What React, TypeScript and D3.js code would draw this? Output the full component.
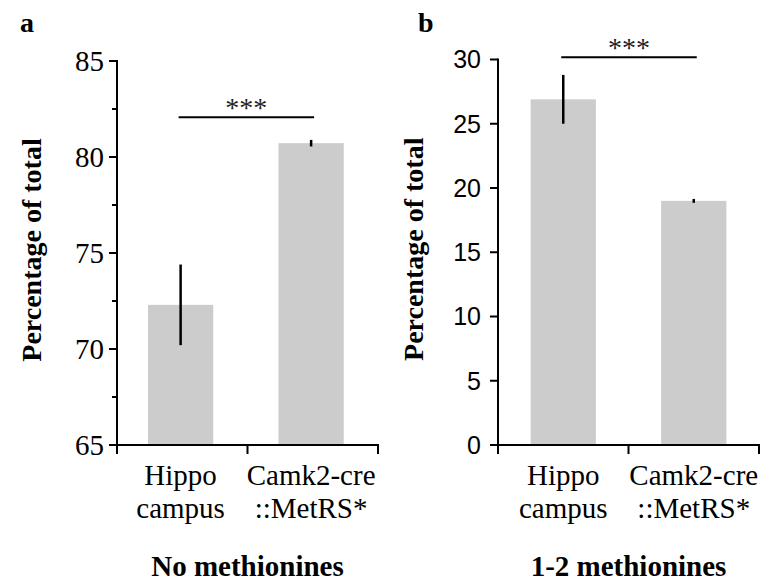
import React from "react";
import * as d3 from "d3";

const categories = ["Hippocampus", "Camk2-cre::MetRS*"];
const categoryLines = [["Hippo", "campus"], ["Camk2-cre", "::MetRS*"]];

const noMetMeans = [72.3, 80.72];
const noMetErrors = [2.1, 0.17];
const noMetTicks = [65, 70, 75, 80, 85];
const noMetMinorTicks = [67.5, 72.5, 77.5, 82.5];
const noMetSig = 82.07;

const oneTwoMeans = [26.9, 19.0];
const oneTwoErrors = [1.9, 0.15];
const oneTwoTicks = [0, 5, 10, 15, 20, 25, 30];
const oneTwoSig = 30.17;

const SERIF = "'Liberation Serif', 'Times New Roman', serif";
const SANS = "'Liberation Sans', Arial, sans-serif";

type PanelProps = {
  letter: string;
  letterX: number;
  title: string;
  means: number[];
  errors: number[];
  ticks: number[];
  minor: number[];
  domain: [number, number];
  sig: number;
  x0: number;
  x1: number;
  yTop: number;
  titleX: number;
  tickFont: string;
  tickSize: number;
  tickLabelX: number;
  align: number;
};

function Panel(p: PanelProps) {
  const yBottom = 445;
  const y = d3.scaleLinear().domain(p.domain).range([yBottom, p.yTop]);
  const x = d3
    .scaleBand<string>()
    .domain(categories)
    .range([p.x0, p.x1])
    .paddingInner(0.5)
    .paddingOuter(0.25)
    .align(p.align);
  const centers = categories.map((c) => (x(c) as number) + x.bandwidth() / 2);
  const boundaries = [p.x0, (p.x0 + p.x1) / 2, p.x1];
  const midX = (p.x0 + p.x1) / 2;
  const ySig = y(p.sig);
  const ymid = (yBottom + p.yTop) / 2;
  return (
    <g>
      <text x={p.letterX} y={32} fontFamily={SERIF} fontWeight="bold" fontSize={28}>
        {p.letter}
      </text>
      {categories.map((c, i) => (
        <rect
          key={c}
          x={x(c)}
          y={y(p.means[i])}
          width={x.bandwidth()}
          height={yBottom - y(p.means[i])}
          fill="#cccccc"
        />
      ))}
      {categories.map((c, i) => (
        <line
          key={c + "e"}
          x1={centers[i]}
          x2={centers[i]}
          y1={y(p.means[i] - p.errors[i])}
          y2={y(p.means[i] + p.errors[i])}
          stroke="#000"
          strokeWidth={2.5}
        />
      ))}
      <line x1={p.x0} x2={p.x0} y1={yBottom + 1} y2={p.yTop - 1} stroke="#000" strokeWidth={2} />
      {p.ticks.map((t) => (
        <g key={"t" + t}>
          <line x1={p.x0 - 8} x2={p.x0} y1={y(t)} y2={y(t)} stroke="#000" strokeWidth={2} />
          <text
            x={p.tickLabelX}
            y={y(t)}
            dy="0.35em"
            textAnchor="end"
            fontFamily={p.tickFont}
            fontSize={p.tickSize}
          >
            {t}
          </text>
        </g>
      ))}
      {p.minor.map((t) => (
        <line key={"m" + t} x1={p.x0 - 5} x2={p.x0} y1={y(t)} y2={y(t)} stroke="#000" strokeWidth={2} />
      ))}
      <line x1={p.x0 - 1} x2={p.x1 + 1} y1={yBottom} y2={yBottom} stroke="#000" strokeWidth={2} />
      {boundaries.map((bx, i) => (
        <line key={"b" + i} x1={bx} x2={bx} y1={yBottom} y2={yBottom + 9} stroke="#000" strokeWidth={2} />
      ))}
      {categories.map((c, i) => (
        <g key={c + "l"}>
          <text x={centers[i]} y={485} textAnchor="middle" fontFamily={SERIF} fontSize={29}>
            {categoryLines[i][0]}
          </text>
          <text x={centers[i]} y={518} textAnchor="middle" fontFamily={SERIF} fontSize={29}>
            {categoryLines[i][1]}
          </text>
        </g>
      ))}
      <line x1={centers[0] - 2} x2={centers[1] + 3} y1={ySig} y2={ySig} stroke="#000" strokeWidth={2} />
      <text
        x={(centers[0] + centers[1]) / 2 + 0.5}
        y={ySig}
        textAnchor="middle"
        fontFamily={SERIF}
        fontSize={28}
        fill="#222"
      >
        ***
      </text>
      <text
        transform={`translate(${p.titleX},${ymid - 3}) rotate(-90)`}
        textAnchor="middle"
        fontFamily={SERIF}
        fontWeight="bold"
        fontSize={28}
      >
        Percentage of total
      </text>
      <text x={midX} y={576} textAnchor="middle" fontFamily={SERIF} fontWeight="bold" fontSize={29}>
        {p.title}
      </text>
    </g>
  );
}

export default function App() {
  return (
    <svg
      width={774}
      height={585}
      style={{ position: "absolute", left: 0, top: 0, background: "#fff" }}
    >
      <rect x={0} y={0} width={774} height={585} fill="#fff" />
      <Panel
        letter="a"
        letterX={20}
        title="No methionines"
        means={noMetMeans}
        errors={noMetErrors}
        ticks={noMetTicks}
        minor={noMetMinorTicks}
        domain={[65, 85]}
        sig={noMetSig}
        x0={117}
        x1={378}
        yTop={61}
        titleX={41}
        tickFont={SERIF}
        tickSize={29}
        tickLabelX={104}
        align={0.475}
      />
      <Panel
        letter="b"
        letterX={418}
        title="1-2 methionines"
        means={oneTwoMeans}
        errors={oneTwoErrors}
        ticks={oneTwoTicks}
        minor={[]}
        domain={[0, 30]}
        sig={oneTwoSig}
        x0={498}
        x1={759}
        yTop={59.5}
        titleX={423}
        tickFont={SANS}
        tickSize={25}
        tickLabelX={481}
        align={0.5}
      />
    </svg>
  );
}
